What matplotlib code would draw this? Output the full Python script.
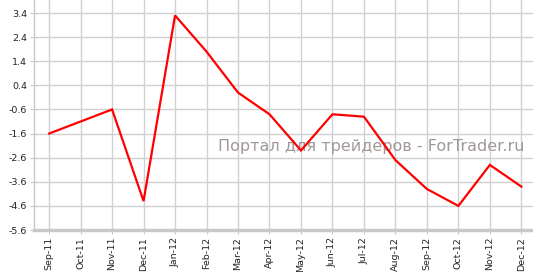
import matplotlib
matplotlib.use("Agg")
import matplotlib.pyplot as plt

months = ["Sep-11", "Oct-11", "Nov-11", "Dec-11", "Jan-12", "Feb-12", "Mar-12", "Apr-12",
          "May-12", "Jun-12", "Jul-12", "Aug-12", "Sep-12", "Oct-12", "Nov-12", "Dec-12"]
values = [-1.6, -1.1, -0.6, -4.4, 3.3, 1.8, 0.1, -0.8, -2.3, -0.8, -0.9, -2.7, -3.9, -4.6, -2.9, -3.8]
yticks = [3.4, 2.4, 1.4, 0.4, -0.6, -1.6, -2.6, -3.6, -4.6, -5.6]

fig = plt.figure(figsize=(5.33, 2.72), dpi=100)
ax = fig.add_axes([34/533, (272-230)/272, 1 - 34/533, 230/272])
x = list(range(len(months)))
ax.plot(x, values, color="#ff0000", lw=1.6, solid_joinstyle="miter", zorder=3)
ax.set_xlim(-0.48, 15.37)
ax.set_ylim(-5.6, 3.94)
ax.set_xticks(x)
ax.set_xticklabels(months, rotation=90, fontsize=6.8, color="#222222")
ax.set_yticks(yticks)
ax.set_yticklabels([f"{v:.1f}" for v in yticks], fontsize=6.8, color="#222222")
ax.grid(True, color="#d0d0d0", lw=1)
ax.set_axisbelow(True)
for s in ["top", "right"]:
    ax.spines[s].set_visible(False)
ax.spines["bottom"].set_color("#c8c8c8")
ax.spines["bottom"].set_linewidth(2.5)
ax.spines["left"].set_color("#c8c8c8")
ax.spines["left"].set_linewidth(1)
ax.tick_params(axis="both", length=3, color="#c8c8c8", pad=2)
ax.text(525/533, (272-147)/272, "Портал для трейдеров - ForTrader.ru", ha="right", va="center",
        fontsize=11.5, color="#a09898", family="DejaVu Sans", transform=fig.transFigure, zorder=2)
fig.savefig("out.png", dpi=100)
